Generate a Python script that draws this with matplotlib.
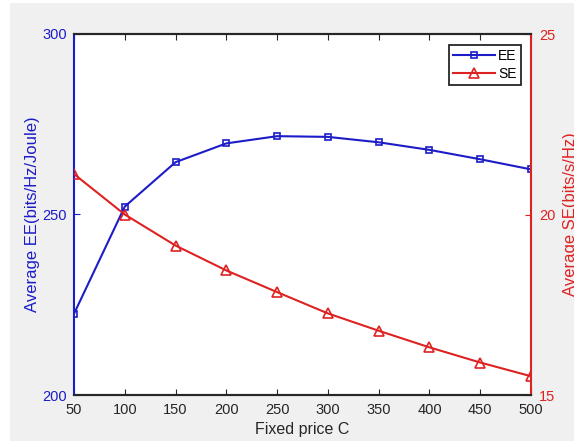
import matplotlib.pyplot as plt
from matplotlib.patches import Rectangle

plt.rcParams['font.family'] = ['Liberation Sans', 'DejaVu Sans']

# data
price = [50, 100, 150, 200, 250, 300, 350, 400, 450, 500]
ee = [222.5, 252.2, 264.5, 269.7, 271.7, 271.5, 270.0, 267.9, 265.3, 262.5]
se = [21.12, 20.0, 19.14, 18.45, 17.85, 17.26, 16.78, 16.32, 15.90, 15.52]

blue = '#1c1cc8'
red = '#de2222'
dark = '#262626'

fig = plt.figure(figsize=(5.74, 4.44), dpi=100, facecolor='white')
# grey window area (screenshot has a thin white margin on left/top/bottom)
bg = Rectangle((10/574, 1-441/444), 1-10/574, (441-3)/444,
               transform=fig.transFigure, facecolor='#f0f0f0',
               edgecolor='none', zorder=-10)
fig.add_artist(bg)

ax = fig.add_axes([74/574, 1-395/444, (531-74)/574, (395-34)/444])
ax2 = ax.twinx()

l1, = ax.plot(price, ee, color=blue, lw=1.5, marker='s', ms=5, mfc='none',
              mec=blue, mew=1.2, label='EE')
l2, = ax2.plot(price, se, color=red, lw=1.5, marker='^', ms=6.5, mfc='none',
               mec=red, mew=1.2, label='SE')

ax.set_xlim(50, 500)
ax.set_ylim(200, 300)
ax2.set_ylim(15, 25)
ax.set_xticks(price)
ax.set_yticks([200, 250, 300])
ax2.set_yticks([15, 20, 25])

ax.tick_params(axis='x', direction='in', top=True, length=4, labelsize=10.5,
               colors=dark, pad=6)
ax.tick_params(axis='y', direction='in', length=4, labelsize=10.5,
               colors=blue, pad=5)
ax2.tick_params(axis='y', direction='in', length=4, labelsize=10.5,
                colors=red, pad=6)

ax.spines['left'].set_color(blue)
ax.spines['right'].set_visible(False)
ax2.spines['left'].set_visible(False)
ax2.spines['right'].set_color(red)
for a in (ax, ax2):
    a.spines['top'].set_color(dark)
    a.spines['bottom'].set_color(dark)
    for s in a.spines.values():
        s.set_linewidth(1.5)

ax.set_xlabel('Fixed price C', fontsize=11.5, color=dark, labelpad=3)
ax.set_ylabel('Average EE(bits/Hz/Joule)', fontsize=12, color=blue, labelpad=1.5)
ax2.set_ylabel('Average SE(bits/s/Hz)', fontsize=12, color=red, labelpad=5)

leg = ax2.legend(handles=[l1, l2], loc='upper right', fontsize=10,
                 handlelength=3.0, fancybox=False, framealpha=1,
                 edgecolor=dark, borderpad=0.3, labelspacing=0.3,
                 handletextpad=0.25, borderaxespad=0,
                 bbox_to_anchor=(0.978, 0.97))
leg.get_frame().set_linewidth(1.3)

fig.savefig('out.png', dpi=100, facecolor=fig.get_facecolor())
